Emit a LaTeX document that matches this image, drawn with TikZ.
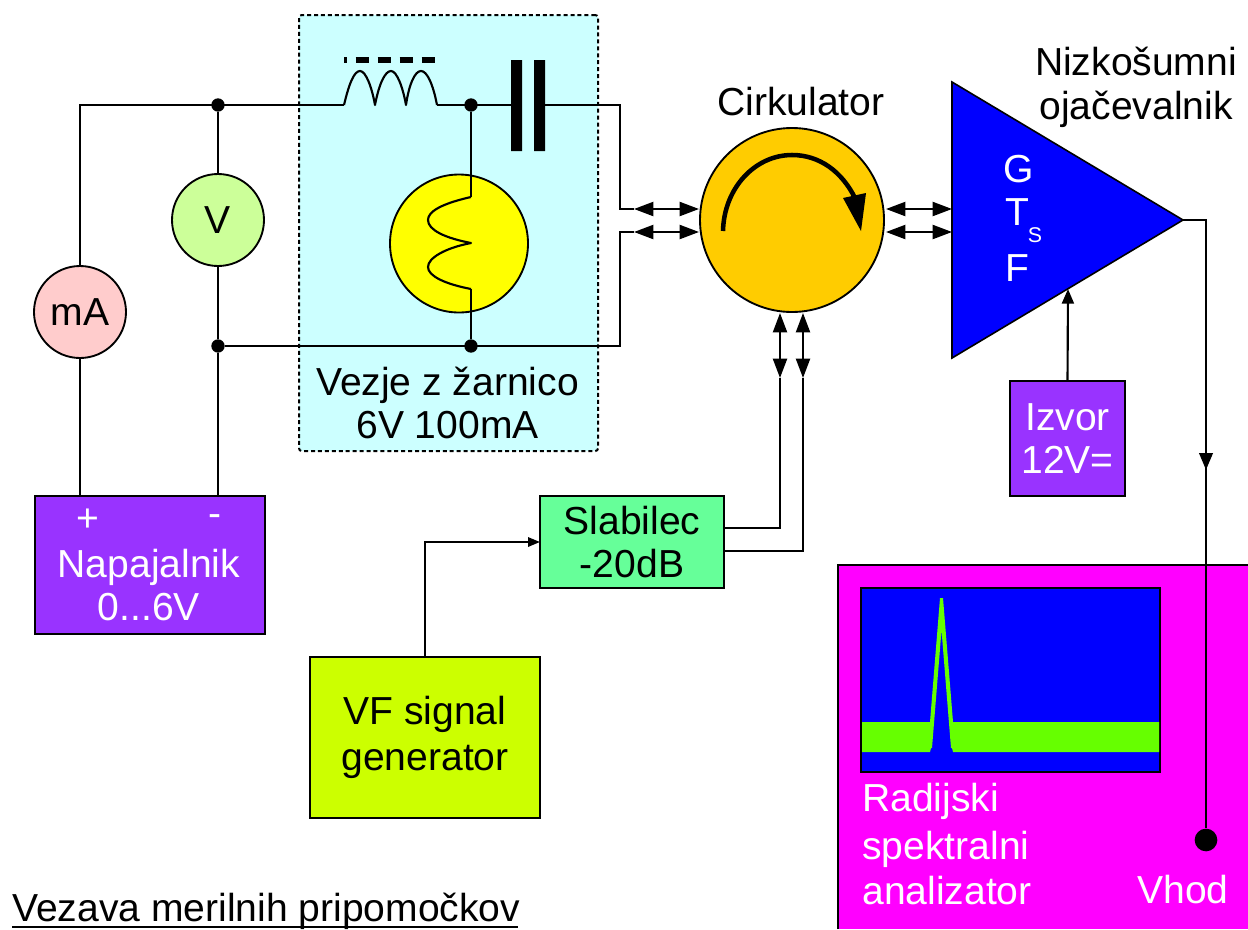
\documentclass[tikz,border=0pt]{standalone}
\usepackage{fontspec}
\setmainfont{Liberation Sans}
\usetikzlibrary{arrows.meta,shapes.geometric}
\definecolor{cBlueBg}{HTML}{CCFFFF}
\definecolor{cPurple}{HTML}{9933FF}
\definecolor{cGreenBox}{HTML}{66FF99}
\definecolor{cYellowGreen}{HTML}{CCFF00}
\definecolor{cOrange}{HTML}{FFCC00}
\definecolor{cV}{HTML}{CCFF99}
\definecolor{cMA}{HTML}{FFCCCC}
\definecolor{cTrace}{HTML}{66FF00}
\definecolor{cMagenta}{HTML}{FF00FF}
\definecolor{cYellow}{HTML}{FFFF00}
\definecolor{cBlue}{HTML}{0000FF}
\tikzset{
  wire/.style={line width=1.6pt,line join=miter},
  biarrow/.style={wire,{Triangle[length=14.5pt,width=10.5pt]}-{Triangle[length=14.5pt,width=10.5pt]}},
  oneway/.style={wire,-{Triangle[length=9pt,width=7pt]}},
  junction/.style={circle,fill=black,inner sep=0pt,minimum size=10pt},
  box/.style={draw=black,line width=1.2pt,inner sep=0pt,outer sep=0pt,align=center},
  disc/.style={circle,draw=black,line width=1.4pt,inner sep=0pt,outer sep=0pt},
  txt/.style={font=\fontsize{29.3}{32}\selectfont,align=center,inner sep=0pt},
  wtxt/.style={txt,text=white},
  ltxt/.style={txt,align=left,text=white,anchor=north west},
}
\begin{document}
\begin{tikzpicture}[x=0.75pt,y=-0.75pt]
\useasboundingbox (0,0) rectangle (1248,929);
% coloured areas
\node[box,draw=none,fill=cMagenta,anchor=north west,minimum width=307.5pt,minimum height=273pt] (analyzer) at (838,565) {};
\draw[line width=1.2pt] (838,929) |- (1248,565);
\node[draw=black,dash pattern=on 3pt off 2.2pt,line width=1.5pt,fill=cBlueBg,rounded corners=2pt,inner sep=0pt,anchor=north west,minimum width=224.25pt,minimum height=327pt] (lampbox) at (298,14) {};
\node[box,fill=cBlue,anchor=north west,minimum width=224.25pt,minimum height=138pt,line width=1.5pt] (screen) at (861,588) {};
\fill[cTrace] (862,722) -- (930,722) -- (940,598) -- (943,598) -- (953,722) -- (1159,722) -- (1159,752) -- (953,752) -- (952,748) -- (951,748) -- (941.5,630) -- (932,748) -- (931,748) -- (930,752) -- (862,752) -- cycle;
% coordinates
\coordinate (tl) at (80,105);
\coordinate (tr) at (620,105);
\coordinate (br) at (620,346);
\coordinate (bl) at (620,232);
\coordinate (ul) at (620,209);
\coordinate (indL) at (344,105);
\coordinate (indR) at (437,105);
\coordinate (capL) at (511,105);
\coordinate (capR) at (545,105);
\coordinate (c1) at (699,209);
\coordinate (c2) at (699,232);
\coordinate (c3) at (886,209);
\coordinate (c4) at (886,232);
\coordinate (a1) at (634,209);
\coordinate (a2) at (634,232);
\coordinate (t1) at (952,209);
\coordinate (t2) at (952,232);
\coordinate (c5) at (780,313);
\coordinate (c6) at (803,313);
\coordinate (d5) at (780,378);
\coordinate (d6) at (803,378);
\coordinate (e5) at (780,528);
\coordinate (e6) at (803,551);
\coordinate (s5) at (724,528);
\coordinate (s6) at (724,551);
\coordinate (g1) at (425,542);
\coordinate (s0) at (540,542);
\coordinate (o1) at (1206,220);
\coordinate (o2) at (1206,470);
\coordinate (o3) at (1206,404);
\coordinate (fa) at (471,197);
\coordinate (fb) at (471,289);
\coordinate (ap) at (1068,289);
% nodes
\node[disc,fill=cYellow,minimum size=103.5pt] (lamp) at (459,243.5) {};
\node[disc,fill=cV,minimum size=69pt,txt] (volt) at (218,220) {V};
\node[disc,fill=cMA,minimum size=69pt,txt] (ma) at (80,312) {mA};
\node[disc,fill=cOrange,minimum size=138pt] (circ) at (792,220) {};
\node[box,fill=cPurple,minimum width=172.5pt,minimum height=103.5pt] (psu) at (150,565) {};
\node[box,fill=cGreenBox,minimum width=138pt,minimum height=69pt,txt] (att) at (632,542) {\raisebox{0.7pt}{Slabilec}\\\raisebox{0.7pt}{-20dB}};
\node[box,fill=cYellowGreen,minimum width=172.5pt,minimum height=120.75pt,txt,font=\fontsize{29.3}{33}\selectfont] (gen) at (425,737.5) {\raisebox{-3pt}{VF signal}\\[1pt]\raisebox{-3pt}{generator}};
\node[box,fill=cPurple,minimum width=86.25pt,minimum height=86.25pt,txt,text=white] (src) at (1067.5,438.5) {Izvor\\12V=};
\fill[black] (511,60) rectangle (522,151) (534,60) rectangle (545,151);
\node[junction] (j1) at (218,105) {};
\node[junction] (j2) at (471,105) {};
\node[junction] (j3) at (218,346) {};
\node[junction] (j4) at (471,346) {};
\node[circle,fill=black,inner sep=0pt,minimum size=17pt] (inp) at (1206,840) {};
% amplifier
\draw[line width=1.2pt,fill=cBlue,line join=miter] (952,82) coordinate (ampa) -- (952,358) coordinate (ampb) -- (1183,220) coordinate (ampo) -- cycle;
% wiring
\draw[wire] (ma.north) -- (tl) -- (indL);
\draw[wire] (indR) -- (capL);
\draw[wire] (capR) -- (tr) -- (ul) -- (a1);
\draw[wire] (j1) -- (volt.north);
\draw[wire] (volt.south) -- (j3);
\draw[wire] (j3) -- (br) -- (bl) -- (a2);
\draw[wire] (ma.south) -- (ma.south |- psu.north);
\draw[wire] (j3) -- (j3 |- psu.north);
\draw[wire] (j2) -- (fa);
\draw[wire] (fb) -- (j4);
\draw[wire,line join=round] (fa) .. controls (440,204) and (428,212) .. (428,220) .. controls (428,230) and (445,238) .. (471,243) .. controls (445,248) and (428,258) .. (428,267) .. controls (428,276) and (445,284) .. (471,289);
\draw[wire,line join=round] (indL) .. controls (349,84) and (354,71) .. (360,71) .. controls (366,71) and (372,88) .. (375,105) .. controls (379,84) and (385,71) .. (391,71) .. controls (397,71) and (403,88) .. (406,105) .. controls (409,84) and (415,71) .. (421,71) .. controls (427,71) and (433,84) .. (indR);
\draw[line width=4.6pt,dash pattern=on 9.9pt off 6.6pt,dash phase=7.8pt] (344,60) -- (437,60);
\draw[biarrow] (a1) -- (c1);
\draw[biarrow] (a2) -- (c2);
\draw[biarrow] (c3) -- (t1);
\draw[biarrow] (c4) -- (t2);
\draw[biarrow] (c5) -- (d5);
\draw[biarrow] (c6) -- (d6);
\draw[wire] (d5) -- (e5) -- (s5);
\draw[wire] (d6) -- (e6) -- (s6);
\draw[oneway] (gen.north) -- (g1) -- (s0);
\draw[wire,-{Triangle[length=11pt,width=9pt]}] (src.north) -- (ap);
\draw[wire] (ampo) -- (o1) -- (inp);
\draw[line width=2.2pt,-{Triangle[length=12.75pt,width=10pt]}] (o3) -- (o2);
% circulator arrow
\draw[line width=3.4pt] (723,231) .. controls (724,188) and (755,155) .. (792,155) .. controls (820,155) and (842,172) .. (855,198);
\fill[black] (843,198) -- (866,193) -- (861,231) -- cycle;
% text
\node[txt,anchor=north] (tcirc) at (801,87) {Cirkulator};
\node[txt,font=\fontsize{29.3}{33}\selectfont] (tlna) at (1136,87) {Nizkošumni\\ojačevalnik};
\node[txt] (tlamp) at (447.5,403) {Vezje z žarnico\\6V 100mA};
\node[wtxt] (tplus) at (88,520) {+};
\node[wtxt] (tminus) at (215,521) {-};
\node[wtxt] (tpsu) at (149,585) {Napajalnik\\0...6V};
\node[wtxt] (tG) at (1019,169) {G};
\node[wtxt] (tT) at (1017,212) {T};
\node[wtxt,font=\fontsize{16}{18}\selectfont] (tS) at (1035,235) {S};
\node[wtxt] (tF) at (1017,268) {F};
\node[ltxt] (tscreen) at (862,783) {Radijski};
\node[ltxt] (tscreen2) at (862,831) {spektralni};
\node[ltxt] (tscreen3) at (862,876) {analizator};
\node[wtxt] (tvhod) at (1183,890) {Vhod};
\node[txt,anchor=base west] (ttitle) at (12,921) {Vezava merilnih pripomočkov};
\draw[line width=1.4pt] (12,927) -- (518,927);
\end{tikzpicture}
\end{document}
